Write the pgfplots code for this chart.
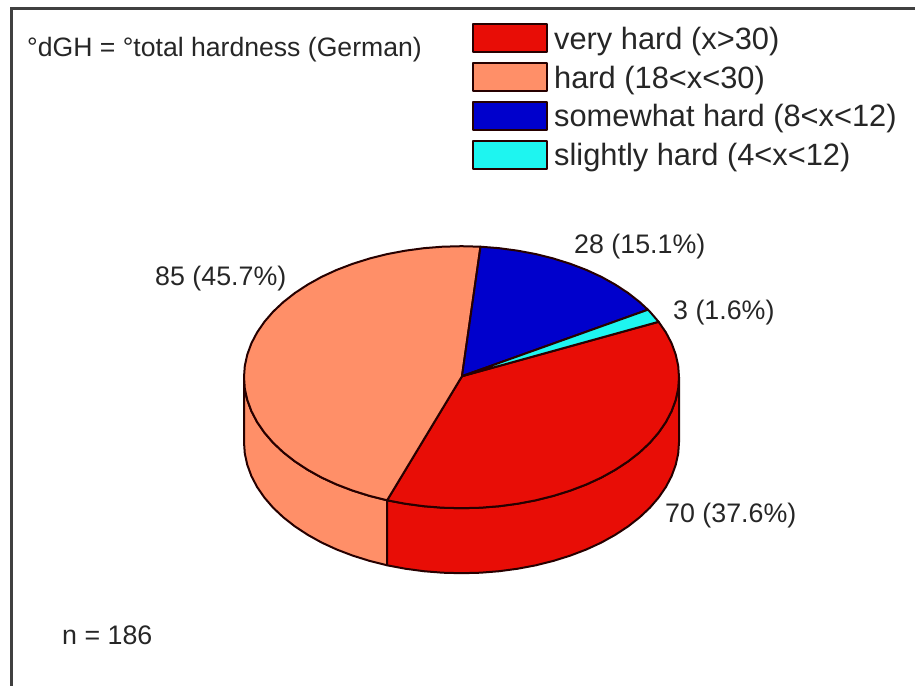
\documentclass[border=0pt]{standalone}
\usepackage{pgfplots}
\pgfplotsset{compat=1.18}
\usepackage{fontspec}
\setmainfont{Liberation Sans}
\definecolor{veryhard}{HTML}{E80D06}
\definecolor{hard}{HTML}{FF8F68}
\definecolor{somewhat}{HTML}{0000CC}
\definecolor{slightly}{HTML}{1EF5F0}
\definecolor{txt}{HTML}{262626}
\newcommand{\lbl}{\fontsize{26.8}{30}\selectfont}

\begin{document}
\begin{tikzpicture}
\useasboundingbox (0,0) rectangle (915pt,687pt);
\begin{axis}[
    at={(0,0)}, anchor=south west,
    scale only axis, width=915pt, height=687pt,
    xmin=0, xmax=915, ymin=0.8, ymax=687.8,
    y dir=reverse,
    hide axis,
    clip=false,
    legend cell align=left,
    legend image code/.code={\draw[#1] (0pt,-10.5pt) rectangle (74pt,17.5pt);},
    legend style={
        at={(axis cs:472,24)}, anchor=north west,
        draw=none, fill=none, inner sep=0pt, row sep=4.8pt,
        font=\fontsize{30.8}{31}\selectfont,
        text=txt,
        nodes={inner sep=0pt, text height=23pt, text depth=8pt},
        /tikz/every odd column/.append style={column sep=6pt},
    },
    slice/.style={draw=black!85!red, line width=2pt, line join=round},
]
% frame
\addplot[forget plot, black!75, line width=3pt] coordinates {(915,9.5) (11,9.5) (11,687)};

% side walls
\addplot[forget plot, slice, fill=hard] coordinates {
  (244,378) (244.8,389.4) (247.3,400.7) (251.4,411.9) (257.1,422.8) (264.4,433.4)
  (273.1,443.5) (283.3,453.1) (294.9,462.2) (307.7,470.6) (321.7,478.4) (336.7,485.3)
  (352.7,491.4) (369.6,496.7) (387.1,501.1)
  (387.1,566.1) (369.6,561.7) (352.7,556.4) (336.7,550.3) (321.7,543.4) (307.7,535.6)
  (294.9,527.2) (283.3,518.1) (273.1,508.5) (264.4,498.4) (257.1,487.8) (251.4,476.9)
  (247.3,465.7) (244.8,454.4) (244,443)
} --cycle;
\addplot[forget plot, slice, fill=veryhard] coordinates {
  (387.1,501.1) (405.2,504.5) (423.7,507) (442.5,508.5) (461.5,509) (480.5,508.5)
  (499.3,507) (517.8,504.5) (535.9,501.1) (553.4,496.7) (570.3,491.4) (586.3,485.3)
  (601.3,478.4) (615.3,470.6) (628.1,462.2) (639.7,453.1) (649.9,443.5) (658.6,433.4)
  (665.9,422.8) (671.6,411.9) (675.7,400.7) (678.2,389.4) (679,378)
  (679,443) (678.2,454.4) (675.7,465.7) (671.6,476.9) (665.9,487.8) (658.6,498.4)
  (649.9,508.5) (639.7,518.1) (628.1,527.2) (615.3,535.6) (601.3,543.4) (586.3,550.3)
  (570.3,556.4) (553.4,561.7) (535.9,566.1) (517.8,569.5) (499.3,572) (480.5,573.5)
  (461.5,574) (442.5,573.5) (423.7,572) (405.2,569.5) (387.1,566.1)
} --cycle;

% top faces
\addplot[slice, fill=veryhard] coordinates {
  (462,377) (658.6,322.6) (665.9,333.2) (671.6,344.1) (675.7,355.3) (678.2,366.6) (679,378)
  (678.2,389.4) (675.7,400.7) (671.6,411.9) (665.9,422.8) (658.6,433.4) (649.9,443.5)
  (639.7,453.1) (628.1,462.2) (615.3,470.6) (601.3,478.4) (586.3,485.3) (570.3,491.4)
  (553.4,496.7) (535.9,501.1) (517.8,504.5) (499.3,507) (480.5,508.5) (461.5,509)
  (442.5,508.5) (423.7,507) (405.2,504.5) (387.1,501.1)
} --cycle;
\addlegendentry{very hard (x>30)}
\addplot[slice, fill=hard] coordinates {
  (462,377) (480.5,247.5) (461.5,247) (442.5,247.5) (423.7,249) (405.2,251.5) (387.1,254.9)
  (369.6,259.3) (352.7,264.6) (336.7,270.7) (321.7,277.6) (307.7,285.4) (294.9,293.8)
  (283.3,302.9) (273.1,312.5) (264.4,322.6) (257.1,333.2) (251.4,344.1) (247.3,355.3)
  (244.8,366.6) (244,378) (244.8,389.4) (247.3,400.7) (251.4,411.9) (257.1,422.8)
  (264.4,433.4) (273.1,443.5) (283.3,453.1) (294.9,462.2) (307.7,470.6) (321.7,478.4)
  (336.7,485.3) (352.7,491.4) (369.6,496.7) (387.1,501.1)
} --cycle;
\addlegendentry{hard (18<x<30)}
\addplot[slice, fill=somewhat] coordinates {
  (462,377) (647.9,310.5) (639.7,302.9) (628.1,293.8) (615.3,285.4) (601.3,277.6) (586.3,270.7)
  (570.3,264.6) (553.4,259.3) (535.9,254.9) (517.8,251.5) (499.3,249) (480.5,247.5)
} --cycle;
\addlegendentry{somewhat hard (8<x<12)}
\addplot[slice, fill=slightly] coordinates {
  (462,377) (658.6,322.6) (649.9,312.5) (647.9,310.5)
} --cycle;
\addlegendentry{slightly hard (4<x<12)}

% annotations
\begin{scope}[every node/.style={anchor=base west, inner sep=0pt, text=txt, font=\lbl}]
\node[font=\fontsize{26.6}{30}\selectfont] at (axis cs:27,57.5) {°dGH = °total hardness (German)};
\node at (axis cs:62,645) {n = 186};
\node at (axis cs:155,286) {85 (45.7\%)};
\node at (axis cs:574,254) {28 (15.1\%)};
\node at (axis cs:673,320) {3 (1.6\%)};
\node at (axis cs:665,523) {70 (37.6\%)};
\end{scope}
\end{axis}
\end{tikzpicture}
\end{document}
